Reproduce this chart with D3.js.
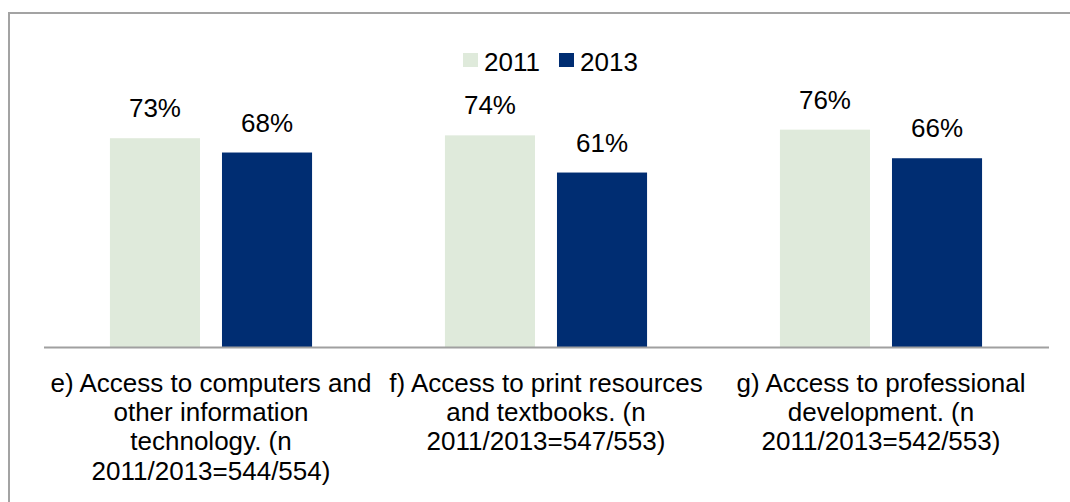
<!DOCTYPE html>
<html>
<head>
<meta charset="utf-8">
<script src="https://cdn.jsdelivr.net/npm/d3@7"></script>
<style>
  html, body { margin: 0; padding: 0; background: #ffffff; }
  svg { display: block; font-family: "Liberation Sans", Arial, sans-serif; }
</style>
</head>
<body>
<svg id="chart" width="1070" height="502"></svg>
<script>
// Survey items and the share of respondents per year
const categories = ["e", "f", "g"];
const categoryLines = [
  ["e) Access to computers and", "other information", "technology. (n", "2011/2013=544/554)"],
  ["f) Access to print resources", "and textbooks. (n", "2011/2013=547/553)"],
  ["g) Access to professional", "development. (n", "2011/2013=542/553)"]
];
const seriesNames = ["2011", "2013"];
const values2011 = [73, 74, 76];
const values2013 = [68, 61, 66];
const seriesColors = ["#dfeadb", "#002d72"];

const seriesValues = [values2011, values2013];

const svg = d3.select("#chart");

// outer frame
svg.append("rect")
  .attr("x", 9).attr("y", 13)
  .attr("width", 1080).attr("height", 520)
  .attr("fill", "none")
  .attr("stroke", "#a3a3a3")
  .attr("stroke-width", 2);

const x0 = d3.scaleBand().domain(categories).range([43.5, 1048.5]).padding(0);
const x1 = d3.scaleBand().domain(seriesNames).range([0, x0.bandwidth()])
  .paddingInner(0.196).paddingOuter(0.593);
const y = d3.scaleLinear().domain([0, 100]).range([347, 61]);

// bars
const groups = svg.append("g").selectAll("g")
  .data(categories)
  .join("g")
  .attr("transform", d => `translate(${x0(d)},0)`);

groups.selectAll("rect")
  .data((c, i) => seriesNames.map((s, k) => ({ s, k, v: seriesValues[k][i] })))
  .join("rect")
  .attr("x", d => x1(d.s))
  .attr("y", d => y(d.v))
  .attr("width", x1.bandwidth())
  .attr("height", d => y(0) - y(d.v))
  .attr("fill", d => seriesColors[d.k]);

// value labels
groups.selectAll("text.val")
  .data((c, i) => seriesNames.map((s, k) => ({ s, k, v: seriesValues[k][i] })))
  .join("text")
  .attr("class", "val")
  .attr("x", d => x1(d.s) + x1.bandwidth() / 2)
  .attr("y", d => y(d.v) - 21)
  .attr("text-anchor", "middle")
  .attr("font-size", 26)
  .attr("fill", "#000")
  .text(d => d.v + "%");

// category axis
const xAxis = svg.append("g")
  .attr("transform", `translate(0,${y(0)})`)
  .call(d3.axisBottom(x0).tickSize(0).tickFormat(""));
xAxis.select(".domain").attr("stroke", "#a0a0a0").attr("stroke-width", 2);

const labels = svg.append("g").selectAll("text")
  .data(categories)
  .join("text")
  .attr("text-anchor", "middle")
  .attr("font-size", 26)
  .attr("fill", "#000")
  .attr("transform", d => `translate(${x0(d) + x0.bandwidth() / 2},392)`);
labels.selectAll("tspan")
  .data((d, i) => categoryLines[i])
  .join("tspan")
  .attr("x", 0)
  .attr("y", (d, j) => j * 29.2)
  .text(d => d);

// legend
const legend = svg.append("g").selectAll("g")
  .data(seriesNames)
  .join("g")
  .attr("transform", (d, i) => `translate(${463 + i * 96},53)`);
legend.append("rect")
  .attr("width", 15).attr("height", 14)
  .attr("fill", (d, i) => seriesColors[i]);
legend.append("text")
  .attr("x", 21).attr("y", 18)
  .attr("font-size", 26)
  .attr("fill", "#000")
  .text(d => d);
</script>
</body>
</html>
